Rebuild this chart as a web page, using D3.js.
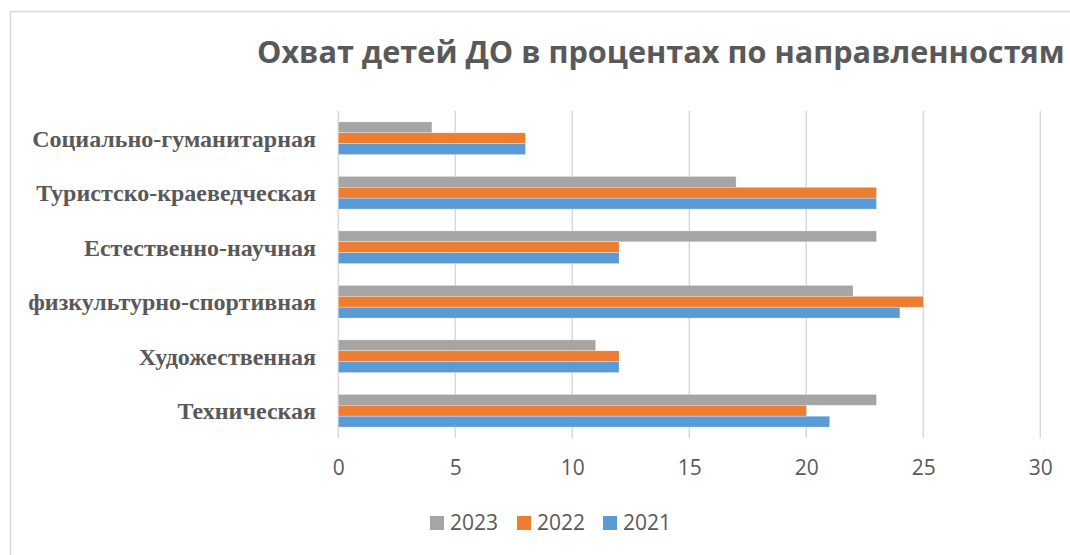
<!DOCTYPE html>
<html>
<head>
<meta charset="utf-8">
<script src="https://cdn.jsdelivr.net/npm/d3@7"></script>
<style>
  html, body { margin: 0; padding: 0; background: #fff; }
  svg { display: block; }
</style>
</head>
<body>
<div id="chart"></div>
<script>
// данные графика
const categories = [
  "Социально-гуманитарная",
  "Туристско-краеведческая",
  "Естественно-научная",
  "физкультурно-спортивная",
  "Художественная",
  "Техническая"
];
const seriesNames = ["2023", "2022", "2021"];
const values2023 = [4, 17, 23, 22, 11, 23];
const values2022 = [8, 23, 12, 25, 12, 20];
const values2021 = [8, 23, 12, 24, 12, 21];
const xTicks = [0, 5, 10, 15, 20, 25, 30];
const colors = { "2023": "#a5a5a5", "2022": "#ed7d31", "2021": "#5b9bd5" };

const width = 1070, height = 555;
const margin = { top: 111, right: 29.7, bottom: 117, left: 338.3 };

const seriesValues = { "2023": values2023, "2022": values2022, "2021": values2021 };
const rows = categories.map((c, i) => ({
  cat: c,
  vals: seriesNames.map(s => ({ key: s, value: seriesValues[s][i] }))
}));

const svg = d3.select("#chart").append("svg")
  .attr("width", width)
  .attr("height", height);

// рамка области диаграммы
svg.append("rect")
  .attr("x", 10.5).attr("y", 11.5)
  .attr("width", width + 20).attr("height", height + 20)
  .attr("fill", "none")
  .attr("stroke", "#d9d9d9")
  .attr("stroke-width", 1.5);

const title = svg.append("text")
  .attr("x", 257)
  .attr("y", 63)
  .attr("fill", "#595959")
  .style("font", "bold 32px 'Open Sans'")
  .text("Охват детей ДО в процентах по направленностям");
// подогнать заголовок под ширину, чтобы не обрезался
const tw = title.node().getComputedTextLength();
if (tw > 808) title.style("font-size", (32 * 808 / tw) + "px");

const x = d3.scaleLinear()
  .domain([0, 30])
  .range([margin.left, width - margin.right]);

const y = d3.scaleBand()
  .domain(categories)
  .range([margin.top, height - margin.bottom])
  .paddingInner(0.4)
  .paddingOuter(0.2);

const ySub = d3.scaleBand()
  .domain(seriesNames)
  .range([0, y.bandwidth()]);

// сетка
svg.append("g")
  .selectAll("line")
  .data(xTicks)
  .join("line")
  .attr("x1", d => x(d)).attr("x2", d => x(d))
  .attr("y1", margin.top).attr("y2", height - margin.bottom)
  .attr("stroke", "#d9d9d9")
  .attr("stroke-width", 1.5);

// столбцы
svg.append("g")
  .selectAll("g")
  .data(rows)
  .join("g")
  .attr("transform", d => `translate(0,${y(d.cat)})`)
  .selectAll("rect")
  .data(d => d.vals)
  .join("rect")
  .attr("x", x(0))
  .attr("y", d => ySub(d.key))
  .attr("width", d => x(d.value) - x(0))
  .attr("height", ySub.bandwidth())
  .attr("fill", d => colors[d.key])
  .attr("stroke", "#ffffff")
  .attr("stroke-opacity", 0.5)
  .attr("stroke-width", 0.6);

// подписи категорий
svg.append("g")
  .selectAll("text")
  .data(categories)
  .join("text")
  .attr("x", 316)
  .attr("y", d => y(d) + y.bandwidth() / 2)
  .attr("dy", "0.35em")
  .attr("text-anchor", "end")
  .attr("fill", "#595959")
  .style("font", "bold 24px 'Liberation Serif'")
  .text(d => d);

// ось X
const xAxis = svg.append("g")
  .attr("transform", `translate(0,${height - margin.bottom})`)
  .call(d3.axisBottom(x).tickValues(xTicks).tickSize(0).tickPadding(22));
xAxis.select(".domain").remove();
xAxis.selectAll("text")
  .attr("fill", "#595959")
  .style("font", "21px 'Open Sans'");

// легенда
const legendX = [430, 517, 603];
const legend = svg.append("g")
  .selectAll("g")
  .data(seriesNames)
  .join("g")
  .attr("transform", (d, i) => `translate(${legendX[i]},523)`);
legend.append("rect")
  .attr("x", 0).attr("y", -7)
  .attr("width", 14).attr("height", 14)
  .attr("fill", d => colors[d]);
legend.append("text")
  .attr("x", 20)
  .attr("dy", "0.35em")
  .attr("fill", "#595959")
  .style("font", "21px 'Open Sans'")
  .text(d => d);
</script>
</body>
</html>
